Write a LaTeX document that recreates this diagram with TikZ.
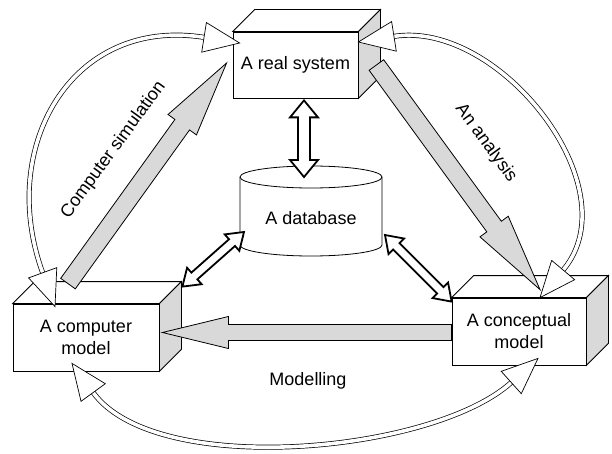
\documentclass[tikz,border=0pt]{standalone}
\usepackage{fontspec}
\setmainfont{Liberation Sans}
\usetikzlibrary{calc}

\definecolor{shade}{gray}{0.85}

% straight block arrows, from named coordinates
\newcommand{\blockarrow}[6]{% style, tail, tip, half shaft, half head, head length
  \draw[#1] ($(#2)!#4!90:(#3)$) -- ($(#3)!#6!(#2)!#4!90:(#3)$) -- ($(#3)!#6!(#2)!#5!90:(#3)$) -- (#3)
    -- ($(#3)!#6!(#2)!#5!-90:(#3)$) -- ($(#3)!#6!(#2)!#4!-90:(#3)$) -- ($(#2)!#4!-90:(#3)$) -- cycle;}
\newcommand{\twowayarrow}[6]{% style, end a, end b, half shaft, half head, head length
  \draw[#1] (#2) -- ($(#2)!#6!(#3)!#5!90:(#3)$) -- ($(#2)!#6!(#3)!#4!90:(#3)$)
    -- ($(#3)!#6!(#2)!#4!90:(#3)$) -- ($(#3)!#6!(#2)!#5!90:(#3)$) -- (#3)
    -- ($(#3)!#6!(#2)!#5!-90:(#3)$) -- ($(#3)!#6!(#2)!#4!-90:(#3)$)
    -- ($(#2)!#6!(#3)!#4!-90:(#3)$) -- ($(#2)!#6!(#3)!#5!-90:(#3)$) -- cycle;}
\newcommand{\ringhead}[2]{% tip, direction back along the ring
  \draw[ringtip] (#1) -- ($(#1)+(#2:36)+(#2+90:15)$) -- ($(#1)+(#2:36)+(#2-90:15)$) -- cycle;}

\begin{document}
\begin{tikzpicture}[x=1pt, y=1pt,
    box/.style={rectangle, draw, fill=white, line width=0.8pt, align=center, inner sep=2pt, font=\fontsize{18}{22}\selectfont},
    arrowtext/.style={font=\fontsize{18}{22}\selectfont},
    greyarrow/.style={draw, fill=shade, line width=0.8pt, line join=miter},
    dbarrow/.style={draw, fill=white, line width=1.8pt, line join=miter},
    ring/.style={double, double distance=3.6pt, line width=0.7pt},
    ringtip/.style={draw, fill=white, line width=0.7pt, line join=miter}
]
\useasboundingbox (0,0) rectangle (612,-454);

% Boxes
\node[box, minimum width=125pt, minimum height=66pt] (real) at (295.5,-65) {A real system};
\node[box, minimum width=146pt, minimum height=67pt] (comp) at (86,-337.5) {A computer\\model};
\node[box, minimum width=134pt, minimum height=67pt] (concept) at (519,-331.5) {A conceptual\\model};

\foreach \b in {real,comp,concept} {
  \draw[fill=white, line width=0.8pt] (\b.north west) -- ++(22,22) -- ($(\b.north east)+(22,22)$) -- (\b.north east) -- cycle;
  \draw[fill=shade, line width=0.8pt] (\b.north east) -- ++(22,22) -- ($(\b.south east)+(22,22)$) -- (\b.south east) -- cycle;
}

% Database
\coordinate (dbc) at (311,-218);
\draw[fill=white, line width=0.8pt] ($(dbc)+(-71,41)$) -- ($(dbc)+(-71,-27)$)
  arc[start angle=180, end angle=360, x radius=71, y radius=11] -- ($(dbc)+(71,41)$);
\draw[line width=0.8pt] ($(dbc)+(0,41)$) ellipse[x radius=71, y radius=11];
\node[arrowtext] (db) at (dbc) {A database};

% Arrow ends
\coordinate (realbot) at ($(real.south)+(8.5,-2)$);
\coordinate (dbtop) at ($(db.center)+(-7,41)$);
\coordinate (dbleft) at ($(db.center)+(-67,-14)$);
\coordinate (dbright) at ($(db.center)+(74,-17)$);
\coordinate (compcorner) at ($(comp.north east)+(23,17)$);
\coordinate (conceptcorner) at ($(concept.north west)+(0,-4)$);
\coordinate (simtail) at ($(comp.north)+(-18,20)$);
\coordinate (simtip) at ($(real.west)+(-6,2)$);
\coordinate (antail) at ($(real.east)+(18,0)$);
\coordinate (antip) at ($(concept.north)+(21,8)$);
\coordinate (modtail) at ($(concept.west)+(0,-1)$);
\coordinate (modtip) at ($(comp.east)+(3,5)$);

% Database links
\twowayarrow{dbarrow}{realbot}{dbtop}{6pt}{14pt}{17pt}
\twowayarrow{dbarrow}{compcorner}{dbleft}{4.5pt}{11pt}{16pt}
\twowayarrow{dbarrow}{dbright}{conceptcorner}{4.5pt}{11pt}{16pt}

% Main arrows
\blockarrow{greyarrow}{simtail}{simtip}{9pt}{17.5pt}{76pt}
\blockarrow{greyarrow}{antail}{antip}{9pt}{17.5pt}{78pt}
\blockarrow{greyarrow}{modtail}{modtip}{8pt}{16pt}{66pt}

% Outer ring
\coordinate (lefta) at ($(comp.north)+(-31,-3)$);
\coordinate (leftb) at ($(real.west)+(7,22)$);
\coordinate (righta) at ($(real.east)+(0,23)$);
\coordinate (rightb) at ($(concept.north)+(21,0)$);
\coordinate (bota) at ($(comp.south)+(-14,8)$);
\coordinate (botb) at ($(concept.south)+(19,7)$);

\draw[ring] ($(lefta)+(110:36)$) to[out=110, in=171, looseness=1.2] ($(leftb)+(171:36)$);
\draw[ring] ($(righta)+(9:36)$) to[out=9, in=50, looseness=0.95] ($(rightb)+(50:36)$);
\draw[ring] ($(bota)+(-54:36)$) to[out=-54, in=-138, looseness=0.65] ($(botb)+(-138:36)$);

\ringhead{lefta}{110}
\ringhead{leftb}{171}
\ringhead{righta}{9}
\ringhead{rightb}{50}
\ringhead{bota}{-54}
\ringhead{botb}{-138}

% Labels
\node[arrowtext, rotate=54] (simlabel) at (113.5,-150) {Computer simulation};
\node[arrowtext, rotate=-54] (anlabel) at (486,-143) {An analysis};
\node[arrowtext] (modlabel) at (308,-381) {Modelling};

\end{tikzpicture}
\end{document}
